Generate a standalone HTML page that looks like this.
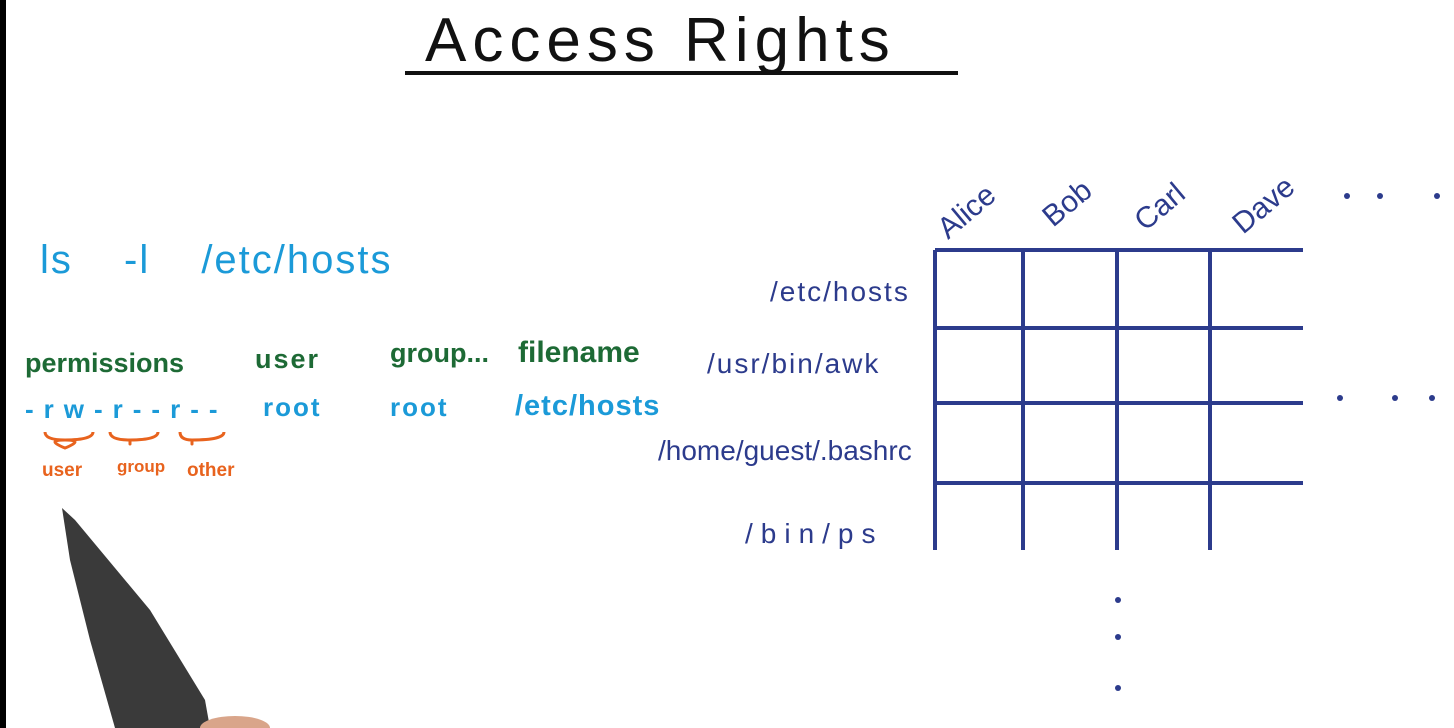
<!DOCTYPE html>
<html><head><meta charset="utf-8"><style>
body{margin:0;width:1454px;height:728px;background:#fff;overflow:hidden;position:relative;font-family:"Liberation Sans",sans-serif}
.t{position:absolute;white-space:nowrap;font-weight:bold;line-height:1}
.b{color:#1b9ad8}.g{color:#1d6a35}.o{color:#e8631e;font-size:19px}.n{color:#2c3b8c;font-size:28px;font-weight:normal}
</style></head><body>
<div style="position:absolute;left:0;top:0;width:6px;height:728px;background:#000"></div>
<div class="t" style="left:425px;top:10px;font-size:62px;font-weight:normal;letter-spacing:6px;color:#111">Access Rights</div>
<div style="position:absolute;left:405px;top:71px;width:553px;height:4px;background:#111"></div>
<div class="t b" style="left:40px;top:240px;font-size:40px;font-weight:normal;word-spacing:38px;letter-spacing:2px">ls -l /etc/hosts</div>
<div class="t g" style="left:25px;top:350px;font-size:27px">permissions</div>
<div class="t g" style="left:255px;top:346px;font-size:27px;letter-spacing:2px">user</div>
<div class="t g" style="left:390px;top:340px;font-size:27px">group...</div>
<div class="t g" style="left:518px;top:338px;font-size:30px">filename</div>
<div class="t b" style="left:25px;top:396px;font-size:26px;letter-spacing:10px">-rw-r--r--</div>
<div class="t b" style="left:263px;top:394px;font-size:26px;letter-spacing:2px">root</div>
<div class="t b" style="left:390px;top:394px;font-size:26px;letter-spacing:2px">root</div>
<div class="t b" style="left:515px;top:392px;font-size:29px;letter-spacing:1px">/etc/hosts</div>
<svg width="1454" height="728" style="position:absolute;left:0;top:0">
<g stroke="#e8631e" stroke-width="3" fill="none">
<path d="M45 432q0 8 20 8q-20 0 0 8q20-8 0-8q28 0 28-8"/>
<path d="M110 432q0 8 20 8q0 8 0 0q28 0 28-8"/>
<path d="M180 432q0 8 12 8q0 8 0 0q32 0 32-8"/>
</g>
<g stroke="#2c3b8c" stroke-width="4">
<line x1="935" y1="250" x2="935" y2="550"/><line x1="1023" y1="250" x2="1023" y2="550"/>
<line x1="1117" y1="250" x2="1117" y2="550"/><line x1="1210" y1="250" x2="1210" y2="550"/>
<line x1="935" y1="250" x2="1303" y2="250"/><line x1="935" y1="328" x2="1303" y2="328"/>
<line x1="935" y1="403" x2="1303" y2="403"/><line x1="935" y1="483" x2="1303" y2="483"/>
</g>
<g fill="#2c3b8c">
<circle cx="1347" cy="196" r="3"/><circle cx="1380" cy="196" r="3"/><circle cx="1437" cy="196" r="3"/>
<circle cx="1340" cy="398" r="3"/><circle cx="1395" cy="398" r="3"/><circle cx="1432" cy="398" r="3"/>
<circle cx="1118" cy="600" r="3"/><circle cx="1118" cy="637" r="3"/><circle cx="1118" cy="688" r="3"/>
</g>
<g font-family="Liberation Sans" font-size="30" fill="#2c3b8c">
<text transform="translate(948,240) rotate(-40)">Alice</text>
<text transform="translate(1053,228) rotate(-40)">Bob</text>
<text transform="translate(1145,232) rotate(-40)">Carl</text>
<text transform="translate(1243,235) rotate(-40)">Dave</text>
</g>
<polygon points="62,508 75,520 150,610 205,700 210,728 115,728 90,640 70,560" fill="#3a3a3a"/>
<ellipse cx="235" cy="728" rx="35" ry="12" fill="#d9a58a"/>
</svg>
<div class="t o" style="left:42px;top:461px">user</div>
<div class="t o" style="left:117px;top:458px;font-size:17px">group</div>
<div class="t o" style="left:187px;top:461px">other</div>
<div class="t n" style="left:770px;top:278px;letter-spacing:2px">/etc/hosts</div>
<div class="t n" style="left:707px;top:350px;letter-spacing:2px">/usr/bin/awk</div>
<div class="t n" style="left:658px;top:437px">/home/guest/.bashrc</div>
<div class="t n" style="left:745px;top:520px;letter-spacing:8px">/bin/ps</div>
</body></html>
